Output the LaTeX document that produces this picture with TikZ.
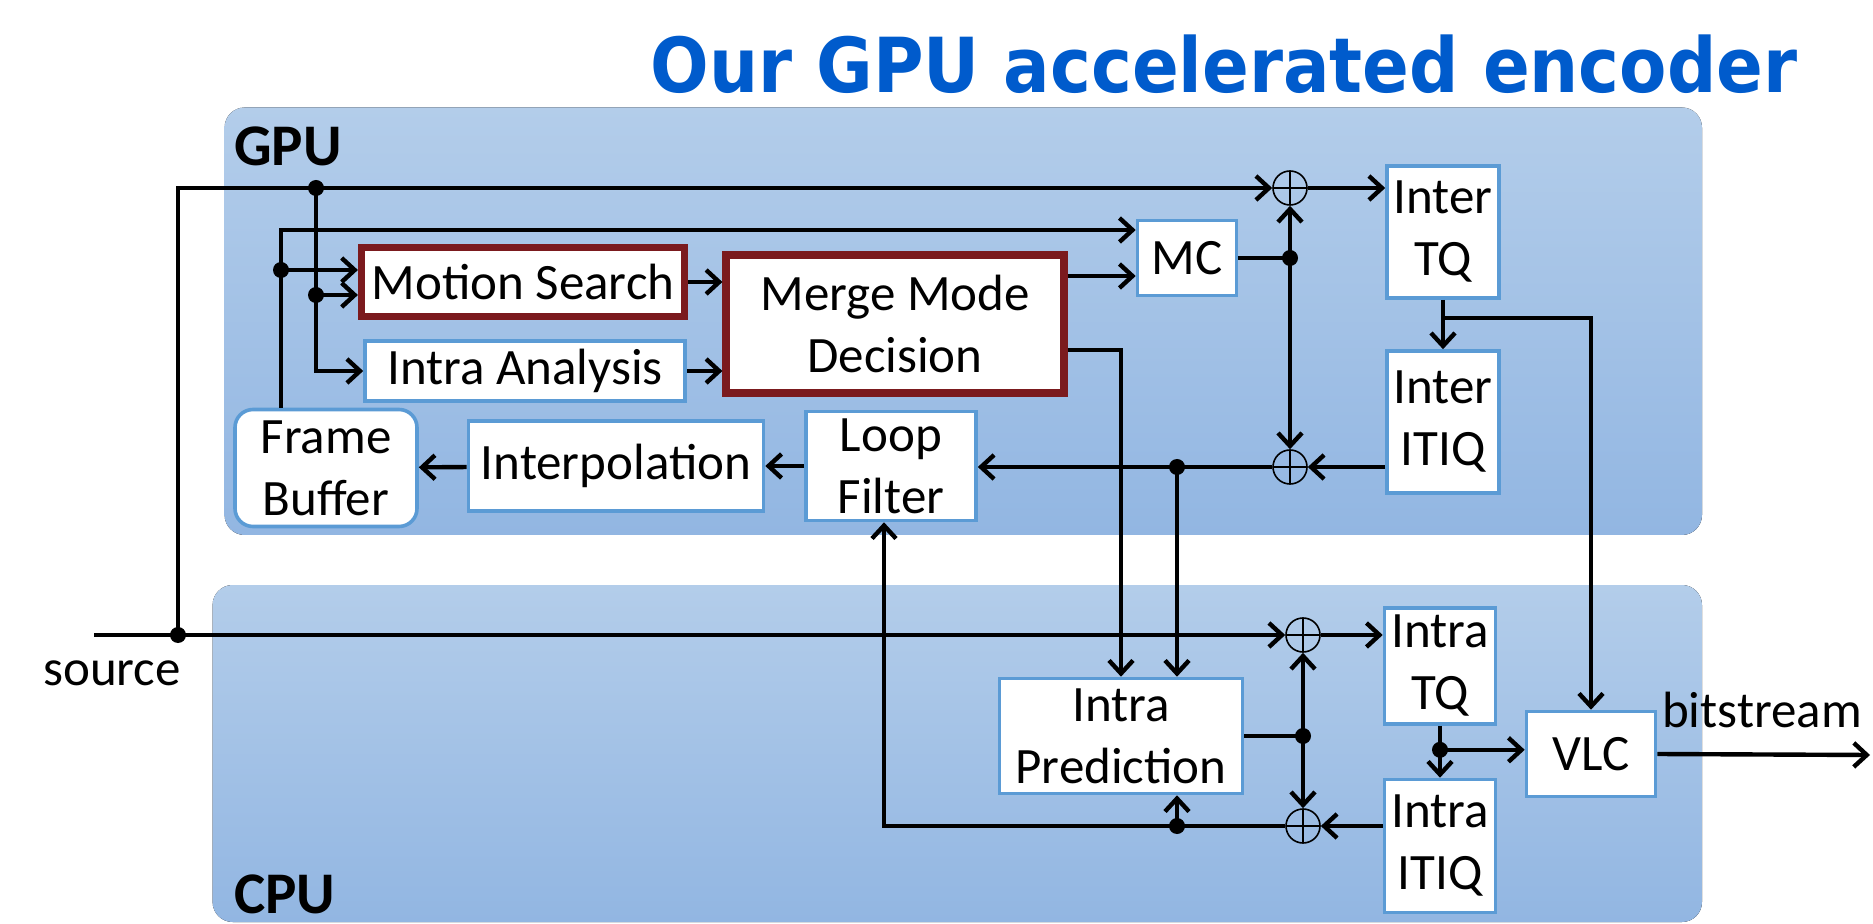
\documentclass[tikz,border=0pt]{standalone}
\usepackage{fontspec}
\setmainfont{Carlito}
\newfontfamily\headfont{DejaVu Sans}
\usetikzlibrary{arrows.meta, calc}
\definecolor{encblue}{HTML}{005BCC}
\definecolor{pantop}{HTML}{B3CDEA}
\definecolor{panbot}{HTML}{92B6E2}
\definecolor{boxline}{HTML}{5B9BD5}
\definecolor{hotred}{HTML}{7B1A1E}

\begin{document}
\begin{tikzpicture}[x=0.5pt, y=-0.5pt,
    blk/.style={draw=boxline, line width=1.8pt, fill=white, inner sep=0pt, align=center,
                font=\fontsize{25.5}{31}\selectfont},
    hot/.style={blk, draw=hotred, line width=3.6pt},
    sum/.style={circle, draw, line width=0.8pt, minimum size=17pt, inner sep=0pt,
                path picture={\draw[line width=1.3pt]
                  (path picture bounding box.north) -- (path picture bounding box.south)
                  (path picture bounding box.west) -- (path picture bounding box.east);}},
    wire/.style={line width=2.2pt},
    arr/.style={wire, -{Straight Barb[length=6.5pt, width=12pt]}},
    dot/.style={circle, fill, inner sep=0pt, minimum size=8pt},
    panel/.style={rounded corners=10pt, top color=pantop, bottom color=panbot},
    lbl/.style={font=\fontsize{25.5}{31}\selectfont},
    unit/.style={font=\fontsize{29.5}{32}\selectfont\bfseries}]
    \useasboundingbox (0,0) rectangle (1873,924);
    \fill[panel] (224.6,107.5) rectangle (1702,535);
    \fill[panel] (212.6,585) rectangle (1702,922);
    \node[font=\headfont\bfseries\fontsize{34.5}{40}\selectfont, text=encblue, anchor=base] (title) at (1224,93) {\scalebox{1}[1.1]{Our GPU accelerated encoder}};
    \node[unit, anchor=base west] (gpu) at (227,166) {GPU};
    \node[unit, anchor=base west] (cpu) at (227,913) {CPU};
    % GPU side
    \node[hot, minimum width=161.5pt, minimum height=34.5pt] (ms) at (523,282) {Motion Search};
    \node[blk, minimum width=160pt, minimum height=30pt] (ia) at (525,371) {Intra Analysis};
    \node[hot, minimum width=169pt, minimum height=69pt] (mmd) at (895,324) {Merge Mode\\Decision};
    \node[blk, minimum width=49.5pt, minimum height=37.5pt] (mc) at (1187,258) {MC};
    \node[blk, minimum width=56pt, minimum height=66pt] (itq) at (1443,232) {Inter\\TQ};
    \node[blk, minimum width=56pt, minimum height=71pt] (iitiq) at (1443,422) {Inter\\ITIQ};
    \node[blk, minimum width=85pt, minimum height=54.5pt] (lf) at (891,466) {Loop\\Filter};
    \node[blk, minimum width=147.5pt, minimum height=45pt] (interp) at (616,466) {Interpolation};
    \node[blk, rounded corners=9pt, minimum width=91pt, minimum height=58.5pt] (fb) at (326,468) {Frame\\Buffer};
    \node[sum] (gpuA) at (1290,188) {};
    \node[sum] (gpuB) at (1290,467) {};
    % CPU side
    \node[blk, minimum width=121.5pt, minimum height=57.5pt] (ip) at (1121,736) {Intra\\Prediction};
    \node[blk, minimum width=55.5pt, minimum height=58pt] (ctq) at (1440,666) {Intra\\TQ};
    \node[blk, minimum width=55.5pt, minimum height=66.5pt] (citiq) at (1440,846) {Intra\\ITIQ};
    \node[blk, minimum width=64.5pt, minimum height=42.5pt] (vlc) at (1591,754) {VLC};
    \node[sum] (cpuA) at (1303,635) {};
    \node[sum] (cpuB) at (1303,826) {};
    \node[lbl, anchor=base] (src) at (112,685) {source};
    \node[lbl, anchor=base] (bits) at (1762,727) {bitstream};
    % junctions
    \coordinate (srcin) at (94,635);
    \coordinate (srcdot) at (178,635);
    \coordinate (topdot) at (316,188);
    \coordinate (fbup) at ([xshift=-22.5pt]fb.north);
    \coordinate (msA) at ([yshift=6pt]ms.west);
    \coordinate (msB) at ([yshift=-6.5pt]ms.west);
    \coordinate (mcin) at ([yshift=14pt]mc.west);
    \coordinate (mcB) at ([yshift=-9pt]mc.west);
    \coordinate (mmdout) at ([yshift=-13pt]mmd.east);
    \coordinate (mcdot) at (gpuA |- mc.east);
    \coordinate (itqj) at ([yshift=-9pt]itq.south);
    \coordinate (ipinB) at ([xshift=28pt]ip.north);
    \coordinate (lfdot) at (ipinB |- gpuB);
    \coordinate (lfup) at ([xshift=-3.5pt]lf.south);
    \coordinate (ipdot) at (ipinB |- cpuB);
    \coordinate (ipjr) at (cpuA |- ip.east);
    \coordinate (ctqj) at ([yshift=-12pt]ctq.south);
    \coordinate (bsout) at (1870,755);
    % connectors
    \draw[arr] (srcin) -- (cpuA);
    \draw[arr] (srcdot) |- (gpuA);
    \draw[arr] (topdot) |- (ia);
    \draw[arr] (topdot |- msB) -- (msB);
    \draw[arr] (fbup) |- (mcin);
    \draw[arr] (fbup |- msA) -- (msA);
    \draw[arr] (ms.east) -- (ms.east -| mmd.west);
    \draw[arr] (ia.east) -- (ia.east -| mmd.west);
    \draw[arr] (mcB -| mmd.east) -- (mcB);
    \draw[arr] (mmdout) -| (ip);
    \draw[wire] (mc.east) -- (mcdot);
    \draw[arr] (mcdot) -- (gpuA);
    \draw[arr] (mcdot) -- (gpuB);
    \draw[arr] (gpuA) -- (gpuA -| itq.west);
    \draw[arr] (itq.south) -- (iitiq.north);
    \draw[arr] (itqj) -| (vlc);
    \draw[arr] (iitiq.west |- gpuB) -- (gpuB);
    \draw[arr] (gpuB) -- (gpuB -| lf.east);
    \draw[arr] (lfdot) -- (ipinB);
    \draw[arr] (lf) -- (interp);
    \draw[arr] (interp) -- (fb);
    \draw[arr] (cpuB) -| (lfup);
    \draw[arr] (ipdot) -- (ipdot |- ip.south);
    \draw[wire] (ip.east) -- (ipjr);
    \draw[arr] (ipjr) -- (cpuA);
    \draw[arr] (ipjr) -- (cpuB);
    \draw[arr] (cpuA) -- (cpuA -| ctq.west);
    \draw[arr] (ctq.south) -- (citiq.north);
    \draw[arr] (ctqj) -- (ctqj -| vlc.west);
    \draw[arr] (citiq.west |- cpuB) -- (cpuB);
    \draw[arr] (vlc.east) -- (bsout);
    \foreach \j in {srcdot, topdot, mcdot, lfdot, ipdot, ipjr, ctqj}
      \node[dot] at (\j) {};
    \node[dot] at (topdot |- msB) {};
    \node[dot] at (fbup |- msA) {};
\end{tikzpicture}
\end{document}
